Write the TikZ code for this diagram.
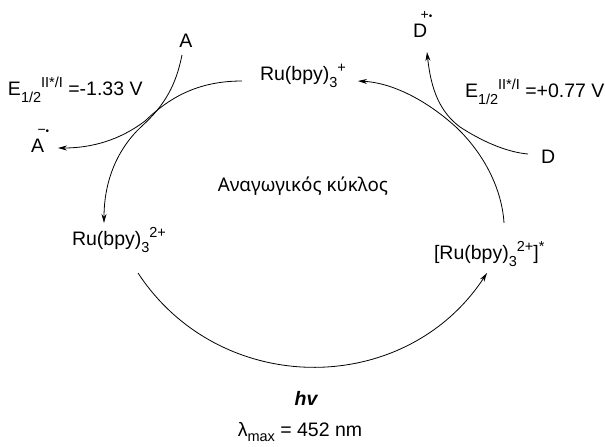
\documentclass[tikz,border=0pt]{standalone}
\usepackage{fontspec}
\setmainfont{Liberation Sans}
\newfontfamily\greekfont{Noto Sans}
\usetikzlibrary{arrows.meta}

% index and exponent in the style of the labels
\newcommand{\lo}[1]{\raisebox{-0.36em}{\fontsize{14.5}{14.5}\selectfont #1}}
\newcommand{\hi}[1]{\raisebox{0.36em}{\fontsize{14.5}{14.5}\selectfont #1}}
% small raised charge marks placed over a letter
\newcommand{\chargemark}[3]{\rlap{\kern#1\raisebox{#2}{\fontsize{14}{14}\selectfont #3}}}
\newcommand{\raddot}{{\fontsize{10}{10}\selectfont •}}

\begin{document}
\begin{tikzpicture}[x=1pt,y=-1pt,
  lbl/.style={inner sep=0pt, outer sep=0pt, font=\fontsize{19.5}{22}\selectfont},
  greek/.style={inner sep=0pt, outer sep=0pt, font=\greekfont\fontsize{18.8}{22}\selectfont},
  flow/.style={line width=0.8pt, -{Stealth[length=9pt,width=5pt]}}]
\useasboundingbox (0,0) rectangle (605,447);

% species
\node[lbl, anchor=base west] (ruplus) at (260,80) {Ru(bpy)\lo{3}\hi{+}};
\node[lbl, anchor=base west] (ruII)   at (72,245) {Ru(bpy)\lo{3}\hi{2+}};
\node[lbl, anchor=base west] (ruex)   at (434,259) {[Ru(bpy)\lo{3}\hi{2+}]\hi{*}};
\node[lbl, anchor=base] (A) at (186,47) {A};
\node[lbl, anchor=base west] (Arad) at (31,152) {A\chargemark{-0.33em}{0.92em}{−\raddot}};
\node[lbl, anchor=base west] (Drad) at (413,37) {D\chargemark{-0.33em}{0.92em}{+\raddot}};
\node[lbl, anchor=base west] (D) at (541,163) {D};

% potentials
\node[lbl, anchor=base west] (Ered) at (8,95)  {E\lo{1/2}\hi{II*/I} =-1.33 V};
\node[lbl, anchor=base west] (Eox)  at (465,97) {E\lo{1/2}\hi{II*/I} =+0.77 V};

% cycle title and light
\node[greek, anchor=base] (cycle) at (303,191) {Αναγωγικός κύκλος};
\node[lbl, anchor=base] (hv)  at (306,405) {\bfseries\itshape hv};
\node[lbl, anchor=base] (lam) at (300,436) {λ\raisebox{-0.28em}{\fontsize{14.5}{14.5}\selectfont max} = 452 nm};

% curve ends
\coordinate (A-out)      at (182,55);
\coordinate (ruII-in)    at (104,223);
\coordinate (ruplus-out) at (242,81);
\coordinate (Arad-in)    at (58,148);
\coordinate (D-out)      at (528,154);
\coordinate (Drad-in)    at (427,52);
\coordinate (ruex-out)   at (504,223);
\coordinate (ruplus-in)  at (358,81);
\coordinate (ruII-out)   at (138,273);
\coordinate (ruex-in)    at (487,273);

% reduction of A by Ru(bpy)3+
\draw[flow] (A-out) .. controls (176,85) and (165,105) .. (142,126)
  .. controls (118,148) and (104,180) .. (ruII-in);
\draw[flow] (ruplus-out) .. controls (196,81) and (168,99) .. (145,121)
  .. controls (120,140) and (92,148) .. (Arad-in);

% oxidation of D by the excited state
\draw[flow] (D-out) .. controls (505,152) and (480,140) .. (460,127)
  .. controls (440,112) and (431,90) .. (Drad-in);
\draw[flow] (ruex-out) .. controls (502,190) and (485,155) .. (457,128)
  .. controls (430,103) and (395,83) .. (ruplus-in);

% photoexcitation
\draw[flow] (ruII-out) .. controls (220,398) and (405,398) .. (ruex-in);
\end{tikzpicture}
\end{document}
